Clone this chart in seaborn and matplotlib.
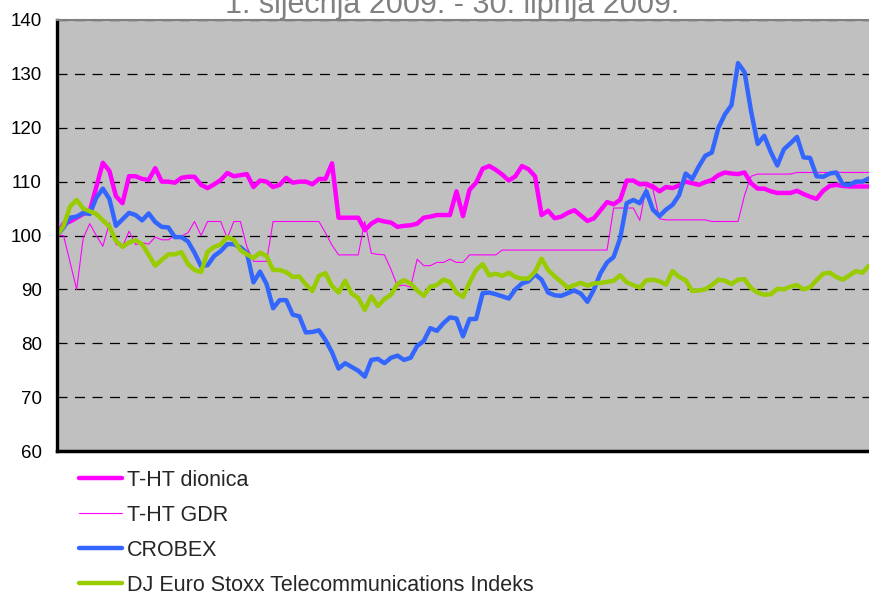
import numpy as np
import pandas as pd
import seaborn as sns
import matplotlib
matplotlib.use("Agg")
import matplotlib.pyplot as plt

# indeksirane vrijednosti (1.1.2009. = 100), jedan podatak po danu trgovanja
tht_dionica = [
    100, 102.2, 102.6, 103.3, 104, 104.5, 109, 113.5, 112, 107.3,
    106, 111, 111, 110.5, 110.3, 112.5, 110, 110, 109.8, 110.7,
    110.9, 110.9, 109.4, 108.8, 109.5, 110.3, 111.6, 111, 111.2, 111.4,
    109, 110.2, 110, 109, 109.4, 110.7, 109.8, 110, 110, 109.5,
    110.5, 110.5, 113.4, 103.3, 103.3, 103.3, 103.3, 101, 102.2, 102.9,
    102.6, 102.4, 101.6, 101.8, 101.9, 102.2, 103.3, 103.5, 103.8, 103.8,
    103.8, 108.2, 103.6, 108.5, 109.8, 112.4, 112.9, 112.2, 111.3, 110.2,
    111, 112.9, 112.3, 111, 103.8, 104.6, 103.2, 103.5, 104.2, 104.7,
    103.7, 102.7, 103.2, 104.7, 106.2, 105.8, 106.6, 110.2, 110.2, 109.5,
    109.6, 109.1, 108.2, 109, 108.8, 109.3, 110, 109.7, 109.4, 109.9,
    110.3, 111.2, 111.7, 111.5, 111.4, 111.7, 109.7, 108.7, 108.7, 108.2,
    107.9, 107.9, 107.9, 108.3, 107.7, 107.2, 106.8, 108.3, 109.2, 109.4,
    109.2, 109.1, 109.1, 109.1, 109.1,
]
tht_gdr = [
    100, 100, 95, 90, 99.5, 102.2, 100, 98, 102.3, 98.4,
    97.9, 100.8, 98.3, 98.7, 98.4, 99.7, 99.2, 99.2, 100, 99.9,
    100.5, 102.6, 100, 102.6, 102.6, 102.6, 99.5, 102.6, 102.6, 97.9,
    95.2, 95.2, 95.2, 102.6, 102.6, 102.6, 102.6, 102.6, 102.6, 102.6,
    102.6, 100.5, 98.2, 96.4, 96.4, 96.4, 96.4, 102.6, 96.7, 96.5,
    96.4, 93.7, 90.6, 90.8, 90.4, 95.6, 94.4, 94.4, 95, 95,
    95.6, 95, 95, 96.4, 96.4, 96.4, 96.4, 96.4, 97.3, 97.3,
    97.3, 97.3, 97.3, 97.3, 97.3, 97.3, 97.3, 97.3, 97.3, 97.3,
    97.3, 97.3, 97.3, 97.3, 97.3, 105.1, 105.1, 105.1, 105.1, 102.8,
    109.2, 108.6, 103.1, 102.9, 102.9, 102.9, 102.9, 102.9, 102.9, 102.9,
    102.6, 102.6, 102.6, 102.6, 102.6, 107.5, 111, 111.4, 111.4, 111.4,
    111.4, 111.4, 111.4, 111.7, 111.7, 111.7, 111.7, 111.7, 111.7, 111.7,
    111.7, 111.7, 111.7, 111.7, 111.7,
]
crobex = [
    100, 101.5, 103.3, 103.5, 104.2, 104, 107, 108.7, 106.8, 101.8,
    103, 104.2, 103.8, 102.8, 104.1, 102.5, 101.6, 101.5, 99.7, 99.7,
    98.9, 96.8, 94.3, 94.5, 96.2, 97.1, 98.4, 98.4, 97.8, 96.8,
    91.3, 93.3, 91, 86.5, 88, 88, 85.3, 85, 82, 82.1,
    82.4, 80.6, 78.3, 75.3, 76.3, 75.6, 74.9, 73.8, 76.9, 77.1,
    76.3, 77.3, 77.7, 76.9, 77.3, 79.5, 80.4, 82.8, 82.3, 83.7,
    84.8, 84.6, 81.3, 84.5, 84.5, 89.3, 89.4, 89.1, 88.7, 88.3,
    90, 91.1, 91.5, 92.8, 91.8, 89.4, 88.9, 88.8, 89.3, 89.8,
    89.2, 87.7, 90, 93, 95, 96, 99.5, 106, 106.6, 106,
    108.2, 104.8, 103.6, 104.8, 105.7, 107.5, 111.5, 110.5, 112.8, 114.8,
    115.4, 120, 122.5, 124.2, 132, 130.3, 123, 117, 118.5, 115.5,
    113, 116, 117.1, 118.3, 114.5, 114.4, 111, 110.9, 111.5, 111.7,
    109.5, 109.4, 110, 110, 110.6,
]
dj_stoxx = [
    100, 101.8, 105.4, 106.6, 105, 104.5, 104, 102.8, 101.7, 99,
    97.9, 98.7, 99.1, 98.4, 96.4, 94.4, 95.5, 96.5, 96.5, 96.9,
    94.7, 93.6, 93.2, 97, 97.9, 98.3, 99.7, 99.2, 97.3, 96.5,
    95.8, 96.8, 96.2, 93.6, 93.6, 93.2, 92.3, 92.4, 90.9, 89.7,
    92.5, 93, 90.6, 89.4, 91.6, 89.2, 88.4, 86.2, 88.7, 86.9,
    88.2, 89, 91, 91.7, 91.1, 89.8, 88.8, 90.5, 90.8, 91.8,
    91.4, 89.4, 88.6, 91.3, 93.6, 94.7, 92.6, 92.9, 92.5, 93.1,
    92.3, 92, 92, 93.3, 95.7, 93.6, 92.4, 91.4, 90.3, 90.8,
    91.2, 90.7, 91.1, 91.2, 91.4, 91.6, 92.6, 91.3, 90.8, 90.3,
    91.7, 91.8, 91.5, 90.9, 93.4, 92.3, 91.7, 89.7, 89.8, 90,
    90.8, 91.8, 91.6, 91, 91.8, 91.9, 90.2, 89.4, 89, 89.1,
    90.1, 90, 90.5, 90.8, 90, 90.4, 91.7, 92.9, 93.1, 92.3,
    91.8, 92.6, 93.4, 93.1, 94.4,
]

series_names = ["T-HT dionica", "T-HT GDR", "CROBEX",
                "DJ Euro Stoxx Telecommunications Indeks"]
y_ticks = [60, 70, 80, 90, 100, 110, 120, 130, 140]
title = "1. siječnja 2009. - 30. lipnja 2009."

colors = ["#FF00FF", "#FF00FF", "#3366FF", "#99CC00"]
widths = [3.2, 0.8, 3.2, 3.2]

sns.set_theme(style="white")
plt.rcParams['font.family'] = ['Liberation Sans', 'DejaVu Sans']

fig = plt.figure(figsize=(8.69, 5.93), dpi=100)
ax = fig.add_axes([57 / 869, 142 / 593, 1 - 57 / 869, (451 - 20) / 593])
ax.set_facecolor("#C0C0C0")

all_series = [tht_dionica, tht_gdr, crobex, dj_stoxx]
for name, vals, c, w in zip(series_names, all_series, colors, widths):
    df = pd.DataFrame({"dan": np.arange(len(vals)), "indeks": vals})
    sns.lineplot(data=df, x="dan", y="indeks", ax=ax, color=c, linewidth=w,
                 label=name, legend=False)

ax.set_xlim(0, len(crobex) - 1)
ax.set_ylim(60, 140)
ax.set_yticks(y_ticks)
ax.set_xticks([])
ax.set_xlabel("")
ax.set_ylabel("")
ax.tick_params(axis="y", length=0, pad=11, labelsize=13.5, colors="black")
ax.yaxis.grid(True, color="black", linestyle=(0, (8, 6)), linewidth=0.9)
ax.xaxis.grid(False)

ax.spines["right"].set_visible(False)
ax.spines["top"].set_color("#808080")
ax.spines["top"].set_linewidth(1.5)
ax.spines["left"].set_color("black")
ax.spines["left"].set_linewidth(2.4)
ax.spines["bottom"].set_color("black")
ax.spines["bottom"].set_linewidth(2.5)

fig.text(452 / 869, 1 - 13 / 593, title, ha="center", va="baseline",
         fontsize=22, color="#808080")

handles, labels = ax.get_legend_handles_labels()
fig.legend(handles, labels, loc="upper left",
           bbox_to_anchor=(70 / 869, 1 - 461 / 593), frameon=False,
           fontsize=15.5, handlelength=2.0, handletextpad=0.25,
           labelspacing=0.65, borderaxespad=0)

fig.savefig("out.png", dpi=100)
